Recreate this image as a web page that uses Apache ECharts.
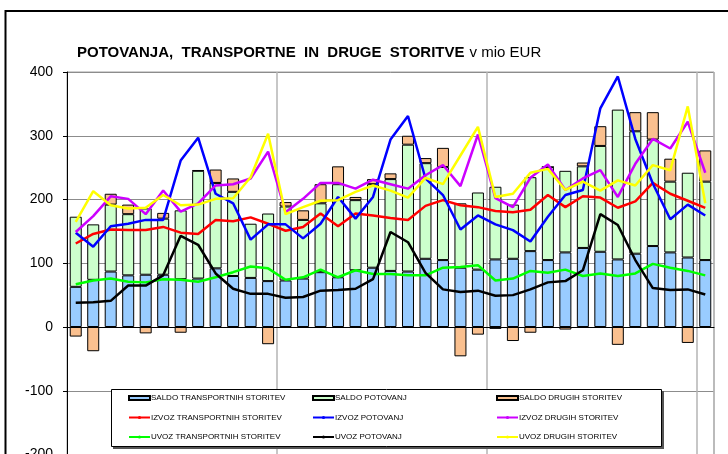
<!DOCTYPE html>
<html>
<head>
<meta charset="utf-8">
<script src="https://cdn.jsdelivr.net/npm/echarts@6/dist/echarts.min.js"></script>
<style>
  html, body { margin: 0; padding: 0; background: #fff; }
  #chart { width: 728px; height: 454px; }
</style>
</head>
<body>
<div id="chart"></div>
<script>
// mesečni podatki (3 leta + 1 mesec)
var categories = ['1','2','3','4','5','6','7','8','9','10','11','12',
                  '1','2','3','4','5','6','7','8','9','10','11','12',
                  '1','2','3','4','5','6','7','8','9','10','11','12','1'];

var saldoTransport = [63, 74, 87, 81, 82, 82, 75, 76, 92, 80, 77, 72,
                      73, 76, 86, 78, 89, 93, 88, 87, 107, 105, 93, 90,
                      106, 107, 119, 105, 117, 124, 118, 106, 115, 127, 117, 109, 105];
var saldoPotovanj = [110, 87, 105, 96, 104, 88, 108, 169, 134, 132, 85, 106,
                     116, 92, 108, 146, 110, 131, 144, 199, 150, 146, 101, 121,
                     114, 85, 116, 146, 128, 128, 166, 235, 192, 167, 111, 133, 123];
var saldoDrugih = [-15, -38, 17, 15, -10, 9, -9, 1, 21, 21, -1, -27,
                   7, 15, 30, 28, 5, 8, 9, 14, 8, 30, -46, -12,
                   -3, -22, -9, 0, -4, 6, 31, -28, 30, 43, 36, -25, 49];

var izvozTransport = [131, 146, 153, 152, 152, 157, 148, 146, 168, 166, 172, 162,
                      151, 157, 178, 158, 178, 175, 171, 168, 190, 199, 191, 188,
                      182, 180, 184, 207, 188, 205, 203, 187, 197, 226, 209, 198, 187];
var izvozPotovanj = [148, 126, 158, 162, 168, 168, 261, 297, 209, 194, 137, 161,
                     161, 139, 162, 204, 170, 204, 294, 331, 233, 207, 153, 175,
                     161, 152, 134, 173, 207, 215, 343, 393, 295, 225, 169, 192, 175];
var izvozDrugih = [149, 174, 205, 201, 177, 214, 181, 194, 222, 224, 233, 275,
                   180, 201, 226, 226, 217, 231, 224, 217, 238, 254, 221, 302,
                   202, 188, 234, 255, 215, 233, 246, 204, 256, 295, 280, 322, 242];
var uvozTransport = [67, 73, 76, 71, 70, 75, 74, 71, 78, 86, 95, 92,
                     74, 78, 90, 78, 89, 83, 83, 81, 81, 93, 94, 97,
                     73, 76, 88, 85, 90, 80, 84, 80, 84, 99, 93, 88, 81];
var uvozPotovanj = [38, 39, 41, 65, 65, 81, 143, 129, 84, 60, 52, 52,
                    46, 47, 57, 58, 60, 75, 149, 133, 85, 59, 55, 57,
                    49, 50, 59, 70, 72, 89, 177, 160, 105, 61, 58, 59, 51];
var uvozDrugih = [165, 213, 191, 186, 187, 207, 191, 192, 201, 202, 235, 303,
                  177, 188, 198, 199, 212, 222, 214, 203, 234, 224, 269, 314,
                  204, 209, 242, 248, 215, 228, 214, 230, 222, 254, 246, 346, 194];

var font = 'Liberation Sans, Arial, sans-serif';

var chart = echarts.init(document.getElementById('chart'));

function barSeries(name, data, color) {
  return {
    name: name,
    type: 'bar',
    stack: 'saldo',
    barWidth: 12,
    data: data,
    z: 2,
    itemStyle: { color: color, borderColor: '#000', borderWidth: 1 }
  };
}

function lineSeries(name, data, color) {
  return {
    name: name,
    type: 'line',
    data: data,
    symbol: 'none',
    z: 3,
    lineStyle: { color: color, width: 2.5 },
    itemStyle: { color: color }
  };
}

function legendCol(left, names) {
  return {
    orient: 'vertical',
    left: left,
    top: 393,
    padding: 0,
    itemWidth: 21,
    itemHeight: 4,
    itemGap: 9.5,
    z: 20,
    selectedMode: false,
    textStyle: { fontFamily: font, fontSize: 8, color: '#000', lineHeight: 10, padding: [0, 0, 0, -4] },
    data: [
      { name: names[0], icon: 'rect' },
      { name: names[1] },
      { name: names[2] }
    ]
  };
}

var option = {
  animation: false,
  backgroundColor: '#fff',
  textStyle: { fontFamily: font },
  title: {
    left: 77,
    top: 44,
    padding: 0,
    text: '{b|POTOVANJA,  TRANSPORTNE  IN  DRUGE  STORITVE} {n|v mio EUR}',
    textStyle: {
      rich: {
        b: { fontFamily: font, fontSize: 15, fontWeight: 'bold', color: '#000' },
        n: { fontFamily: font, fontSize: 15, fontWeight: 'normal', color: '#000' }
      }
    }
  },
  legend: [
    legendCol(128, ['SALDO TRANSPORTNIH STORITEV', 'IZVOZ TRANSPORTNIH STORITEV', 'UVOZ TRANSPORTNIH STORITEV']),
    legendCol(312, ['SALDO POTOVANJ', 'IZVOZ POTOVANJ', 'UVOZ POTOVANJ']),
    legendCol(496, ['SALDO DRUGIH STORITEV', 'IZVOZ DRUGIH STORITEV', 'UVOZ DRUGIH STORITEV'])
  ],
  graphic: [
    // okvir slike
    { type: 'rect', z: 1, shape: { x: 5.5, y: 11, width: 800, height: 500 },
      style: { fill: null, stroke: '#000', lineWidth: 2 } },
    // okvir legende s senco
    { type: 'rect', z: 10, shape: { x: 113, y: 391, width: 551, height: 58 },
      style: { fill: '#555', stroke: null } },
    { type: 'rect', z: 11, shape: { x: 111.5, y: 389.5, width: 550, height: 57 },
      style: { fill: '#fff', stroke: '#000', lineWidth: 1 } }
  ],
  grid: {
    left: 67,
    top: 72,
    width: 647,
    height: 382.5,
    outerBoundsMode: 'none',
    containLabel: false,
    show: true,
    borderColor: '#a0a0a0',
    borderWidth: 1
  },
  xAxis: {
    type: 'category',
    data: categories,
    axisLine: { onZero: true, lineStyle: { color: '#000', width: 1 } },
    axisTick: { show: false },
    axisLabel: { show: false },
    splitLine: {
      show: true,
      interval: function (i) { return i > 0 && i % 12 === 0; },
      lineStyle: { color: '#b4b4b4', width: 1.5 }
    }
  },
  yAxis: {
    type: 'value',
    min: -200,
    max: 400,
    interval: 100,
    axisLine: { show: true, lineStyle: { color: '#000', width: 1 } },
    axisTick: { show: true, length: 4, lineStyle: { color: '#000' } },
    axisLabel: { fontFamily: font, fontSize: 14, color: '#000', margin: 14 },
    splitLine: { show: true, lineStyle: { color: '#8c8c8c', width: 1 } }
  },
  series: [
    barSeries('SALDO TRANSPORTNIH STORITEV', saldoTransport, '#99ccff'),
    barSeries('SALDO POTOVANJ', saldoPotovanj, '#ccffcc'),
    barSeries('SALDO DRUGIH STORITEV', saldoDrugih, '#fac08f'),
    lineSeries('IZVOZ TRANSPORTNIH STORITEV', izvozTransport, '#ff0000'),
    lineSeries('IZVOZ POTOVANJ', izvozPotovanj, '#0000ff'),
    lineSeries('IZVOZ DRUGIH STORITEV', izvozDrugih, '#cc00ff'),
    lineSeries('UVOZ TRANSPORTNIH STORITEV', uvozTransport, '#00ff00'),
    lineSeries('UVOZ POTOVANJ', uvozPotovanj, '#000000'),
    lineSeries('UVOZ DRUGIH STORITEV', uvozDrugih, '#ffff00')
  ]
};

chart.setOption(option);
</script>
</body>
</html>
